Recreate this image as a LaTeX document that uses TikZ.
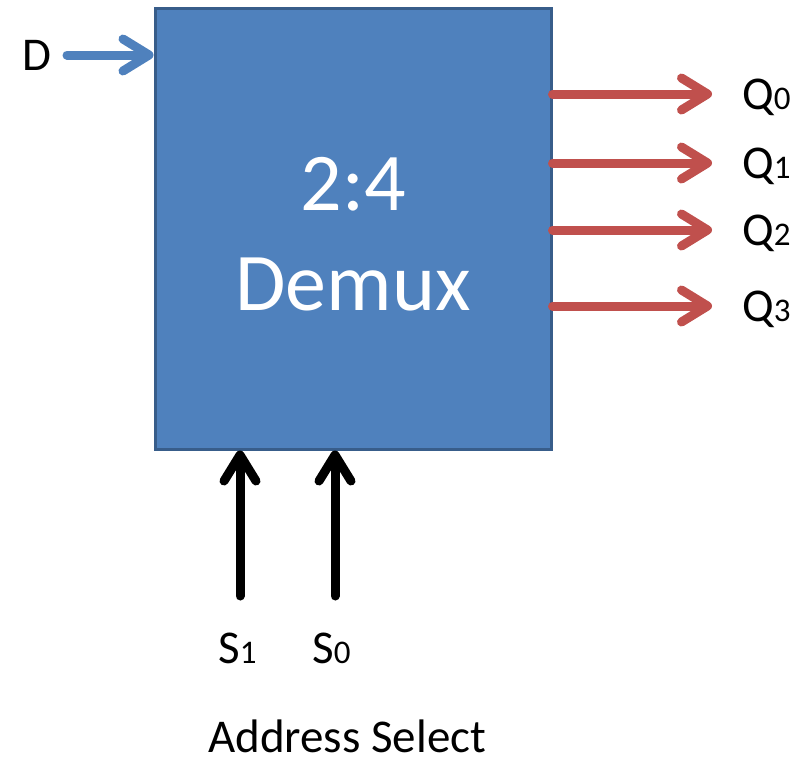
\documentclass[tikz,border=0pt]{standalone}
\usepackage{fontspec}
\setmainfont{Carlito}
\usetikzlibrary{arrows.meta}
\definecolor{boxfill}{HTML}{4F81BD}
\definecolor{boxline}{HTML}{385D8A}
\definecolor{outred}{HTML}{C0504D}
\definecolor{inblue}{HTML}{4F81BD}
\tikzset{
  blockbox/.style={draw=boxline, line width=3pt, fill=boxfill, minimum width=396pt, minimum height=441pt, inner sep=0pt},
  sig/.style={line width=9pt, line cap=round, -{Straight Barb[length=26pt, width=32pt, round]}},
  lbl/.style={font=\fontsize{47}{56}\selectfont, inner sep=0pt, anchor=base west},
  title/.style={font=\fontsize{82}{98}\selectfont, text=white, inner sep=0pt, anchor=base},
}
\newcommand{\sub}[1]{{\fontsize{33}{40}\selectfont #1}}
\begin{document}
\begin{tikzpicture}[x=1pt, y=-1pt]
  \useasboundingbox (0,0) rectangle (796,761);

  % demultiplexer block
  \node[blockbox] (demux) at (353,228.5) {};
  \node[title] (t1) at (353,210) {2:4};
  \node[title] (t2) at (353,310) {Demux};

  % data input
  \node[lbl] (d) at (22,70) {D};
  \coordinate (din) at (67,55);
  \draw[sig, inblue] (din) -- (demux.west |- din);

  % outputs
  \foreach \i/\y in {0/94, 1/163, 2/230, 3/306} {
    \coordinate (o\i) at (712,\y);
    \node[lbl] (q\i) at (742,\y+15) {Q\sub{\i}};
    \draw[sig, outred] (demux.east |- o\i) -- (o\i);
  }

  % select lines
  \coordinate (s1in) at (240,596);
  \coordinate (s0in) at (335,596);
  \draw[sig, black] (s1in) -- (demux.south -| s1in);
  \draw[sig, black] (s0in) -- (demux.south -| s0in);
  \node[lbl] (s1) at (218,663) {S\sub{1}};
  \node[lbl] (s0) at (312,663) {S\sub{0}};
  \node[lbl] (addr) at (208,752) {Address Select};
\end{tikzpicture}
\end{document}
